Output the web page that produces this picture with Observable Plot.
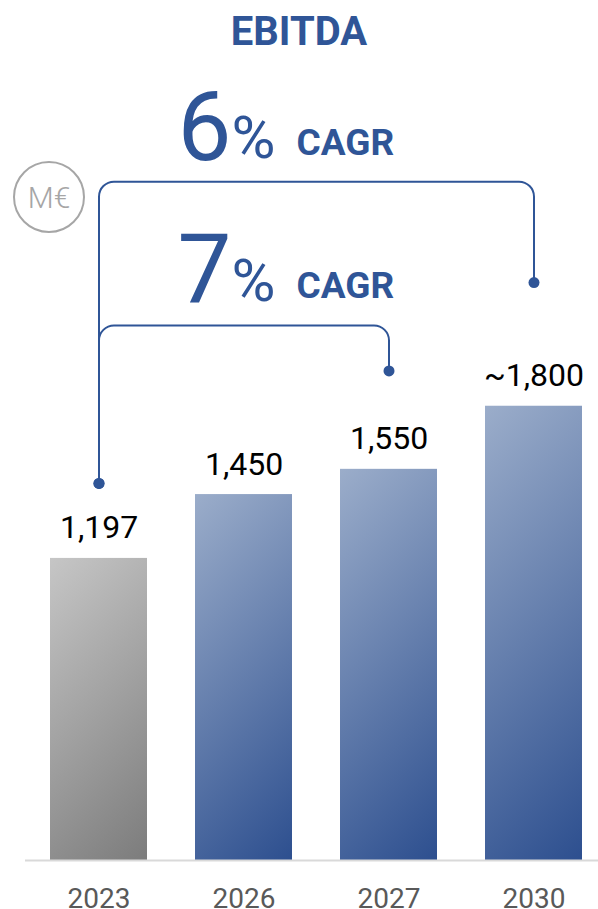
<!DOCTYPE html>
<html><head><meta charset="utf-8">
<script src="https://cdn.jsdelivr.net/npm/d3@7"></script>
<script src="https://cdn.jsdelivr.net/npm/@observablehq/plot@0.6"></script>
<style>
body{margin:0;background:#fff;font-family:Roboto,sans-serif;}
#wrap{position:relative;width:598px;height:909px;overflow:hidden;background:#fff}
#title{height:58px;padding-top:2px;text-align:center;font-size:40px;font-weight:700;color:#2F5597;line-height:60px;}
#unit{position:absolute;left:13px;top:161px;width:72px;height:72px;box-sizing:border-box;border:2.5px solid #a6a6a6;border-radius:50%;display:flex;align-items:center;justify-content:center;font-size:30px;font-weight:300;color:#a6a6a6;}
#chart svg{display:block}
</style>
</head><body>
<div id="wrap">
  <div id="title">EBITDA</div>
  <div id="chart"></div>
  <div id="unit">M€</div>
</div>
<script>
// ---- data ----
const years = ["2023", "2026", "2027", "2030"];
const values = [1197, 1450, 1550, 1800];
const valueLabels = ["1,197", "1,450", "1,550", "~1,800"];
const barKind = ["actual", "target", "target", "target"];

// CAGR brackets (levels in chart units)
const cagrRates = ["6", "7"];
const cagrFrom = ["2023", "2023"];
const cagrTo = ["2030", "2027"];
const cagrLevel = [2690, 2120];
const cagrFromEnd = [1494, 1494];
const cagrToEnd = [2290, 1940];

const blue = "#2F5597";

const bars = years.map((year, i) => ({year, value: values[i], label: valueLabels[i], kind: barKind[i]}));
const cagr = cagrRates.map((rate, i) => ({rate, level: cagrLevel[i]}));
const bracketPts = cagrRates.flatMap((r, i) => [
  {g: i, x: cagrFrom[i], y: cagrFromEnd[i]},
  {g: i, x: cagrFrom[i], y: cagrLevel[i]},
  {g: i, x: cagrTo[i], y: cagrLevel[i]},
  {g: i, x: cagrTo[i], y: cagrToEnd[i]}
]);
const endDots = cagrRates.flatMap((r, i) => [
  {x: cagrFrom[i], y: cagrFromEnd[i]},
  {x: cagrTo[i], y: cagrToEnd[i]}
]);

// rounded-corner curve
function roundedCurve(r) {
  return function(context) {
    let pts = [];
    return {
      areaStart() {}, areaEnd() {},
      lineStart() { pts = []; },
      lineEnd() {
        if (!pts.length) return;
        context.moveTo(pts[0][0], pts[0][1]);
        for (let i = 1; i < pts.length - 1; i++) context.arcTo(pts[i][0], pts[i][1], pts[i + 1][0], pts[i + 1][1], r);
        const l = pts[pts.length - 1];
        context.lineTo(l[0], l[1]);
      },
      point(x, y) { pts.push([+x, +y]); }
    };
  };
}

const chart = Plot.plot({
  width: 598,
  height: 849,
  marginTop: 0,
  marginBottom: 49,
  marginLeft: 25,
  marginRight: 0,
  style: {fontFamily: "Roboto, sans-serif", overflow: "visible", background: "white"},
  x: {domain: years, paddingInner: 0.33, paddingOuter: 0.137, align: 0.6, axis: null},
  y: {domain: [0, 3170], axis: null},
  color: {type: "identity"},
  marks: [
    Plot.barY(bars, {x: "year", y: "value", fill: d => d.kind === "actual" ? "#a0a0a0" : "#6a82b0"}),
    Plot.ruleY([0], {stroke: "#d9d9d9", strokeWidth: 2}),
    Plot.text(bars, {x: "year", y: "value", text: "label", dy: -20, lineAnchor: "bottom", fontSize: 32, fill: "#000"}),
    Plot.text(years, {x: d => d, frameAnchor: "bottom", dy: 47, lineAnchor: "bottom", fontSize: 28, fill: "#595959"}),
    Plot.line(bracketPts, {x: "x", y: "y", z: "g", curve: roundedCurve(15), stroke: blue, strokeWidth: 2}),
    Plot.dot(endDots, {x: "x", y: "y", r: 5.5, fill: blue}),
    Plot.text(cagr, {y: "level", text: "rate", frameAnchor: "left", textAnchor: "start", dx: 152, dy: -22, lineAnchor: "bottom", fontSize: 96, fill: blue}),
    Plot.text(cagr, {y: "level", text: () => "%", frameAnchor: "left", textAnchor: "start", dx: 206, dy: -24, lineAnchor: "bottom", fontSize: 60, fill: blue}),
    Plot.text(cagr, {y: "level", text: () => "CAGR", frameAnchor: "left", textAnchor: "start", dx: 271, dy: -27, lineAnchor: "bottom", fontSize: 37, fontWeight: 700, fill: blue})
  ]
});

// diagonal (45°) gradients per bar
const ns = "http://www.w3.org/2000/svg";
const defs = document.createElementNS(ns, "defs");
chart.prepend(defs);
chart.querySelectorAll('g[aria-label="bar"] rect').forEach((r, i) => {
  const x = +r.getAttribute("x"), y = +r.getAttribute("y");
  const w = +r.getAttribute("width"), h = +r.getAttribute("height");
  const actual = r.getAttribute("fill") === "#a0a0a0";
  const g = document.createElementNS(ns, "linearGradient");
  g.setAttribute("id", "barGrad" + i);
  g.setAttribute("gradientUnits", "userSpaceOnUse");
  g.setAttribute("x1", x); g.setAttribute("y1", y);
  g.setAttribute("x2", x + (w + h) / 2); g.setAttribute("y2", y + (w + h) / 2);
  const stops = actual ? ["#c6c6c6", "#7c7c7c"] : ["#9badca", "#2d4f8f"];
  stops.forEach((c, k) => {
    const s = document.createElementNS(ns, "stop");
    s.setAttribute("offset", k);
    s.setAttribute("stop-color", c);
    g.appendChild(s);
  });
  defs.appendChild(g);
  r.setAttribute("fill", `url(#barGrad${i})`);
});

document.getElementById("chart").appendChild(chart);
</script>
</body></html>
